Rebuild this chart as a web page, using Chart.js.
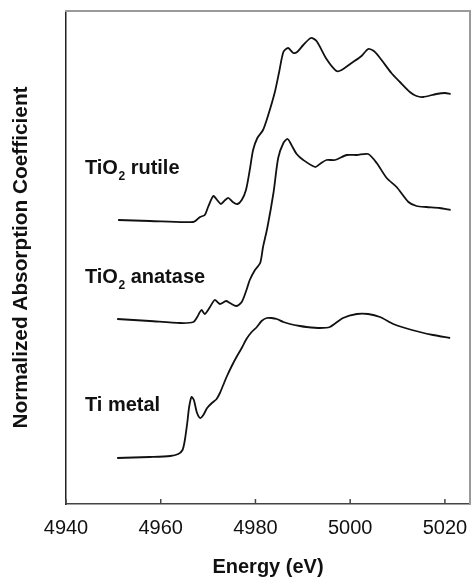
<!DOCTYPE html>
<html>
<head>
<meta charset="utf-8">
<script src="https://cdn.jsdelivr.net/npm/chart.js@4"></script>
<style>
  html, body { margin: 0; padding: 0; background: #fff; }
</style>
</head>
<body>
<canvas id="chart" width="471" height="577"></canvas>
<script>
document.addEventListener("DOMContentLoaded", function() {
    const ctx = document.getElementById("chart").getContext("2d");

    // TiO2 rutile
    const rutileE = [4951.0, 4957.7, 4966.9, 4968.3, 4969.3, 4970.0, 4971.1, 4971.9, 4972.7, 4973.6,
        4974.3, 4975.2, 4976.2, 4977.1, 4978.0, 4978.8, 4979.5, 4980.4, 4981.6, 4982.7,
        4984.1, 4985.0, 4985.9, 4986.9, 4988.0, 4988.8, 4990.1, 4991.7, 4992.9, 4995.0,
        4997.1, 4998.2, 5000.3, 5002.4, 5003.8, 5005.0, 5006.3, 5008.7, 5010.5, 5012.6,
        5014.0, 5015.4, 5018.2, 5020.0, 5021.2];
    const rutileMu = [2.84, 2.83, 2.82, 2.87, 2.89, 2.97, 3.08, 3.04, 3.00, 3.04,
        3.06, 3.02, 3.00, 3.04, 3.14, 3.34, 3.54, 3.66, 3.74, 3.89,
        4.12, 4.32, 4.52, 4.56, 4.51, 4.52, 4.59, 4.66, 4.63, 4.45,
        4.33, 4.34, 4.41, 4.48, 4.55, 4.53, 4.46, 4.31, 4.22, 4.12,
        4.08, 4.07, 4.10, 4.11, 4.10];

    // TiO2 anatase
    const anataseE = [4950.8, 4957.7, 4964.1, 4966.9, 4967.7, 4968.6, 4969.3, 4970.4, 4971.4, 4972.5,
        4973.8, 4974.6, 4976.0, 4977.1, 4978.1, 4978.8, 4979.9, 4981.0, 4981.6, 4982.5,
        4983.8, 4984.8, 4985.9, 4986.8, 4987.6, 4988.7, 4990.1, 4992.6, 4993.6, 4995.0,
        4996.8, 4999.3, 5001.4, 5003.8, 5005.6, 5007.7, 5009.8, 5012.3, 5014.0, 5016.1,
        5018.9, 5021.2];
    const anataseMu = [1.85, 1.83, 1.81, 1.82, 1.87, 1.94, 1.90, 1.97, 2.04, 2.00,
        2.03, 2.01, 1.98, 2.02, 2.14, 2.24, 2.34, 2.41, 2.57, 2.76,
        3.11, 3.46, 3.61, 3.65, 3.59, 3.50, 3.44, 3.37, 3.40, 3.44,
        3.44, 3.49, 3.49, 3.50, 3.41, 3.26, 3.17, 3.02, 2.98, 2.97,
        2.96, 2.94];

    // Ti metal
    const metalE = [4950.8, 4957.7, 4962.0, 4963.7, 4964.6, 4965.1, 4965.6, 4966.0, 4966.5, 4967.0,
        4967.6, 4968.3, 4969.0, 4969.8, 4970.8, 4971.8, 4972.5, 4973.2, 4973.9, 4975.0,
        4976.0, 4977.1, 4978.1, 4979.2, 4980.3, 4981.3, 4982.4, 4983.4, 4984.5, 4985.9,
        4987.3, 4989.4, 4990.8, 4993.6, 4995.7, 4998.5, 5001.4, 5003.8, 5006.3, 5009.1,
        5011.6, 5014.7, 5017.5, 5021.1];
    const metalMu = [0.46, 0.47, 0.48, 0.50, 0.54, 0.64, 0.81, 0.97, 1.07, 1.04,
        0.92, 0.86, 0.89, 0.96, 1.01, 1.05, 1.11, 1.19, 1.27, 1.38,
        1.47, 1.56, 1.65, 1.72, 1.77, 1.83, 1.86, 1.86, 1.85, 1.82,
        1.80, 1.78, 1.77, 1.76, 1.77, 1.86, 1.90, 1.90, 1.87, 1.80,
        1.76, 1.72, 1.69, 1.66];

    const xTicks = [4940, 4960, 4980, 5000, 5020];

    // curve labels: main text, subscript, rest
    const labelMain = ["TiO", "TiO", "Ti metal"];
    const labelSub = ["2", "2", ""];
    const labelRest = [" rutile", " anatase", ""];
    const labelE = [4944.0, 4944.0, 4944.0];
    const labelMu = [3.30, 2.21, 0.93];

    const toPoints = (xs, ys) => xs.map((v, i) => ({x: v, y: ys[i]}));
    const FONT = "'Liberation Sans', Arial, sans-serif";

    const line = (label, xs, ys) => ({
        label: label,
        data: toPoints(xs, ys),
        borderColor: "#111",
        borderWidth: 1.8,
        pointRadius: 0,
        tension: 0.25,
        fill: false
    });

    const extras = {
        id: "extras",
        afterDraw(chart) {
            const c = chart.ctx;
            const a = chart.chartArea;
            const x = chart.scales.x, y = chart.scales.y;
            c.save();
            // inward tick marks
            c.strokeStyle = "#444";
            c.lineWidth = 1.5;
            xTicks.forEach(v => {
                const px = x.getPixelForValue(v);
                c.beginPath();
                c.moveTo(px, a.bottom);
                c.lineTo(px, a.bottom - 5);
                c.stroke();
            });
            // labels with subscripts
            c.fillStyle = "#111";
            c.textBaseline = "alphabetic";
            labelMain.forEach((t, i) => {
                let px = x.getPixelForValue(labelE[i]);
                const py = y.getPixelForValue(labelMu[i]);
                c.font = "bold 20px " + FONT;
                c.fillText(t, px, py);
                px += c.measureText(t).width;
                if (labelSub[i]) {
                    c.font = "bold 12px " + FONT;
                    c.fillText(labelSub[i], px + 0.5, py + 6);
                    px += c.measureText(labelSub[i]).width + 0.5;
                }
                if (labelRest[i]) {
                    c.font = "bold 20px " + FONT;
                    c.fillText(labelRest[i], px, py);
                }
            });
            c.restore();
        }
    };

    // plain edge axes for the top and right side of the box
    const edge = (position) => ({
        type: "linear",
        position: position,
        display: true,
        afterFit: s => { s.width = position === "right" ? 0 : s.width; s.height = position === "top" ? 0 : s.height; },
        grid: {display: false, drawTicks: false},
        border: {display: true, color: "#9a9a9a", width: 2},
        ticks: {display: false}
    });

    const chart = new Chart(ctx, {
        type: "line",
        data: {
            datasets: [
                line("TiO2 rutile", rutileE, rutileMu),
                line("TiO2 anatase", anataseE, anataseMu),
                line("Ti metal", metalE, metalMu)
            ]
        },
        options: {
            responsive: false,
            animation: false,
            layout: {padding: {top: 11, right: 1, left: 0, bottom: 0}},
            plugins: {
                legend: {display: false},
                tooltip: {enabled: false}
            },
            scales: {
                x: {
                    type: "linear",
                    min: 4940,
                    max: 5025.3,
                    afterBuildTicks: s => { s.ticks = xTicks.map(v => ({value: v})); },
                    afterFit: s => { s.height = 73; s.paddingLeft = 0; s.paddingRight = 0; },
                    grid: {display: true, drawOnChartArea: false, drawTicks: false},
                    border: {display: true, color: "#444", width: 1.5},
                    ticks: {
                        padding: 12,
                        color: "#111",
                        maxRotation: 0,
                        callback: v => String(v),
                        font: {family: FONT, size: 20}
                    },
                    title: {
                        display: true,
                        text: "Energy (eV)",
                        color: "#111",
                        padding: {top: 0, bottom: 0},
                        font: {family: FONT, size: 20, weight: "bold", lineHeight: 1}
                    }
                },
                y: {
                    type: "linear",
                    min: 0,
                    max: 4.93,
                    afterFit: s => { s.width = 66; s.paddingTop = 0; s.paddingBottom = 0; },
                    grid: {display: false},
                    border: {display: true, color: "#222", width: 1.5},
                    ticks: {display: false},
                    title: {
                        display: true,
                        text: "Normalized Absorption Coefficient",
                        color: "#111",
                        padding: {top: 11, bottom: 0},
                        font: {family: FONT, size: 20.8, weight: "bold", lineHeight: 1}
                    }
                },
                xTop: Object.assign(edge("top"), {min: 4940, max: 5025.3}),
                yRight: Object.assign(edge("right"), {min: 0, max: 4.93})
            }
        },
        plugins: [extras]
    });
});
</script>
</body>
</html>
